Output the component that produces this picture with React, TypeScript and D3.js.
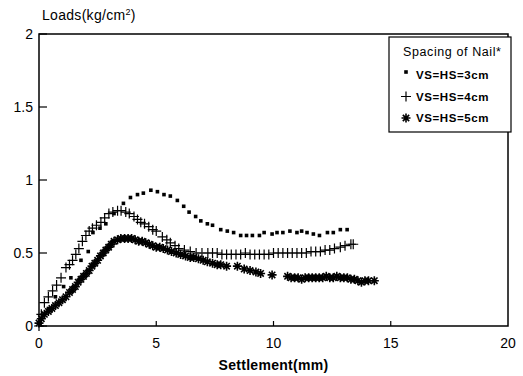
import React from "react";
import * as d3 from "d3";

// Spacing of nail = 3cm (dots)
const series3cm: [number, number][] = [
  [0.05, 0.02], [0.2, 0.07], [0.4, 0.12], [0.7, 0.2], [1.05, 0.27], [1.36, 0.33],
  [1.79, 0.45], [2.1, 0.51], [2.3, 0.64], [2.6, 0.67], [2.85, 0.7], [3.2, 0.77],
  [3.6, 0.84], [3.9, 0.88], [4.2, 0.9], [4.45, 0.91], [4.77, 0.93], [5.05, 0.92],
  [5.33, 0.9], [5.6, 0.89], [5.9, 0.86], [6.17, 0.82], [6.4, 0.78], [6.68, 0.75],
  [6.9, 0.72], [7.18, 0.7], [7.4, 0.69], [7.75, 0.66], [8.03, 0.65], [8.3, 0.64],
  [8.6, 0.62], [8.85, 0.62], [9.1, 0.62], [9.4, 0.62], [9.6, 0.64], [9.94, 0.63],
  [10.15, 0.64], [10.4, 0.64], [10.7, 0.65], [11.0, 0.64], [11.2, 0.65], [11.43, 0.64],
  [11.7, 0.63], [11.96, 0.62], [12.3, 0.64], [12.55, 0.64], [12.85, 0.66], [13.14, 0.66],
];

// Spacing of nail = 4cm (plus)
const series4cm: [number, number][] = [
  [0.0, 0.0], [0.1, 0.08], [0.23, 0.16], [0.4, 0.2], [0.58, 0.24], [0.75, 0.28],
  [0.94, 0.33], [1.15, 0.4], [1.3, 0.42], [1.43, 0.45], [1.57, 0.49], [1.7, 0.53],
  [1.85, 0.58], [2.0, 0.62], [2.14, 0.65], [2.28, 0.67], [2.45, 0.69], [2.64, 0.71],
  [2.8, 0.74], [2.98, 0.77], [3.15, 0.78], [3.35, 0.79], [3.5, 0.79], [3.7, 0.78],
  [3.85, 0.77], [4.05, 0.75], [4.2, 0.73], [4.34, 0.71], [4.5, 0.7], [4.68, 0.68],
  [4.85, 0.66], [5.0, 0.65], [5.26, 0.61], [5.45, 0.59], [5.6, 0.57], [5.8, 0.55],
  [5.96, 0.53], [6.2, 0.52], [6.45, 0.51], [6.7, 0.5], [6.95, 0.5], [7.2, 0.5],
  [7.4, 0.5], [7.6, 0.5], [7.8, 0.49], [8.0, 0.49], [8.2, 0.49], [8.4, 0.49],
  [8.6, 0.49], [8.8, 0.5], [9.0, 0.49], [9.2, 0.49], [9.4, 0.49], [9.6, 0.49],
  [9.8, 0.49], [10.0, 0.5], [10.2, 0.5], [10.4, 0.5], [10.6, 0.5], [10.8, 0.5],
  [11.0, 0.5], [11.2, 0.5], [11.4, 0.5], [11.6, 0.51], [11.8, 0.51], [12.0, 0.51],
  [12.2, 0.52], [12.4, 0.52], [12.6, 0.53], [12.85, 0.54], [13.05, 0.55], [13.3, 0.56],
  [13.4, 0.56],
];

// Spacing of nail = 5cm (asterisk)
const series5cm: [number, number][] = [
  [0.0, 0.02], [0.1, 0.05], [0.23, 0.08], [0.4, 0.1], [0.55, 0.12], [0.7, 0.14],
  [0.85, 0.16], [1.0, 0.18], [1.15, 0.2], [1.3, 0.23], [1.43, 0.25], [1.55, 0.27],
  [1.67, 0.3], [1.79, 0.32], [1.9, 0.34], [2.02, 0.36], [2.14, 0.38], [2.26, 0.41],
  [2.38, 0.43], [2.5, 0.45], [2.62, 0.48], [2.74, 0.5], [2.85, 0.52], [2.97, 0.54],
  [3.08, 0.56], [3.2, 0.58], [3.35, 0.59], [3.49, 0.6], [3.65, 0.6], [3.8, 0.6],
  [3.95, 0.6], [4.1, 0.59], [4.25, 0.58], [4.4, 0.58], [4.55, 0.57], [4.7, 0.56],
  [4.85, 0.55], [5.0, 0.54], [5.15, 0.54], [5.3, 0.53], [5.48, 0.52], [5.65, 0.51],
  [5.85, 0.5], [6.04, 0.49], [6.25, 0.48], [6.45, 0.47], [6.6, 0.47], [6.8, 0.46],
  [7.0, 0.45], [7.18, 0.44], [7.4, 0.43], [7.6, 0.42], [7.75, 0.42], [8.0, 0.41],
  [8.46, 0.41], [8.75, 0.39], [9.0, 0.38], [9.25, 0.37], [9.45, 0.36], [9.94, 0.35],
  [10.6, 0.34], [10.75, 0.33], [10.9, 0.33], [11.05, 0.33], [11.2, 0.32], [11.35, 0.33],
  [11.5, 0.33], [11.65, 0.33], [11.8, 0.33], [11.95, 0.33], [12.1, 0.33], [12.25, 0.34],
  [12.4, 0.33], [12.55, 0.33], [12.7, 0.34], [12.85, 0.33], [13.0, 0.33], [13.15, 0.33],
  [13.3, 0.32], [13.45, 0.32], [13.6, 0.31], [13.75, 0.3], [13.9, 0.31], [14.05, 0.31],
  [14.3, 0.31],
];

const xTicks = [0, 5, 10, 15, 20];
const yTicks = [0, 0.5, 1, 1.5, 2];
const yTickLabels = ["0", "0.5", "1", "1.5", "2"];
const legendLabels = ["VS=HS=3cm", "VS=HS=4cm", "VS=HS=5cm"];

const W = 523;
const H = 376;
const margin = { top: 34, right: 15, bottom: 50, left: 39 };

const font = "'Liberation Sans', Arial, sans-serif";

const x = d3.scaleLinear().domain([0, 20]).range([margin.left, W - margin.right]);
const y = d3.scaleLinear().domain([0, 2]).range([H - margin.bottom, margin.top]);

const plusPath = "M-5,0H5M0,-5V5";
const starPath = (() => {
  const p = d3.path();
  const r = 4.5;
  for (let i = 0; i < 4; i++) {
    const a = (i * Math.PI) / 4;
    p.moveTo(-r * Math.cos(a), -r * Math.sin(a));
    p.lineTo(r * Math.cos(a), r * Math.sin(a));
  }
  return p.toString();
})();

const Dot = ({ cx, cy }: { cx: number; cy: number }) => (
  <rect x={cx - 1.8} y={cy - 1.8} width={3.6} height={3.6} fill="#000" />
);
const Plus = ({ cx, cy }: { cx: number; cy: number }) => (
  <path d={plusPath} transform={`translate(${cx},${cy})`} stroke="#000" strokeWidth={1.2} fill="none" />
);
const Star = ({ cx, cy }: { cx: number; cy: number }) => (
  <path d={starPath} transform={`translate(${cx},${cy})`} stroke="#000" strokeWidth={1.6} fill="none" />
);

export default function App() {
  const x0 = margin.left;
  const x1 = W - margin.right;
  const y0 = H - margin.bottom;
  const y1 = margin.top;

  return (
    <svg
      width={W}
      height={H}
      style={{ position: "absolute", left: 0, top: 0, background: "#fff" }}
      fontFamily={font}
    >
      <rect width={W} height={H} fill="#fff" />

      {/* frame */}
      <rect x={x0} y={y1} width={x1 - x0} height={y0 - y1} fill="none" stroke="#000" strokeWidth={1.5} />

      {/* y ticks */}
      {yTicks.map((t, i) => (
        <g key={"y" + t}>
          <line x1={x0} x2={x0 + 8} y1={y(t)} y2={y(t)} stroke="#000" strokeWidth={1.2} />
          <text x={x0 - 6} y={y(t)} dy="0.35em" textAnchor="end" fontSize={14}>
            {yTickLabels[i]}
          </text>
        </g>
      ))}

      {/* x ticks */}
      {xTicks.map((t) => (
        <g key={"x" + t}>
          {t > 0 && t < 20 && (
            <line x1={x(t)} x2={x(t)} y1={y0} y2={y0 - 5} stroke="#000" strokeWidth={1.2} />
          )}
          <text x={x(t)} y={y0 + 22} textAnchor="middle" fontSize={14}>
            {t}
          </text>
        </g>
      ))}

      {/* axis titles */}
      <text x={42} y={20} fontSize={14} letterSpacing={0.3}>
        Loads(kg/cm<tspan dy={-5} fontSize={9}>2</tspan>
        <tspan dy={5}>)</tspan>
      </text>
      <text x={(x0 + x1) / 2} y={370} textAnchor="middle" fontSize={14} fontWeight="bold" letterSpacing={0.3}>
        Settlement(mm)
      </text>

      {/* series */}
      <g>
        {series3cm.map(([a, b], i) => (
          <Dot key={"d" + i} cx={x(a)} cy={y(b)} />
        ))}
        {series4cm.map(([a, b], i) => (
          <Plus key={"p" + i} cx={x(a)} cy={y(b)} />
        ))}
        {series5cm.map(([a, b], i) => (
          <Star key={"s" + i} cx={x(a)} cy={y(b)} />
        ))}
      </g>

      {/* legend */}
      <g>
        <rect x={389} y={37} width={122} height={95} fill="#fff" stroke="#000" strokeWidth={1.2} />
        <text x={403} y={56} fontSize={12.5} letterSpacing={0.6}>
          Spacing of Nail*
        </text>
        {legendLabels.map((lab, i) => {
          const ly = 75 + i * 21.5;
          return (
            <g key={lab}>
              {i === 0 && <Dot cx={406} cy={ly - 3} />}
              {i === 1 && <Plus cx={406} cy={ly} />}
              {i === 2 && <Star cx={406} cy={ly} />}
              <text x={416} y={ly} dy="0.35em" fontSize={11.5} fontWeight="bold" letterSpacing={0.6}>
                {lab}
              </text>
            </g>
          );
        })}
      </g>
    </svg>
  );
}
